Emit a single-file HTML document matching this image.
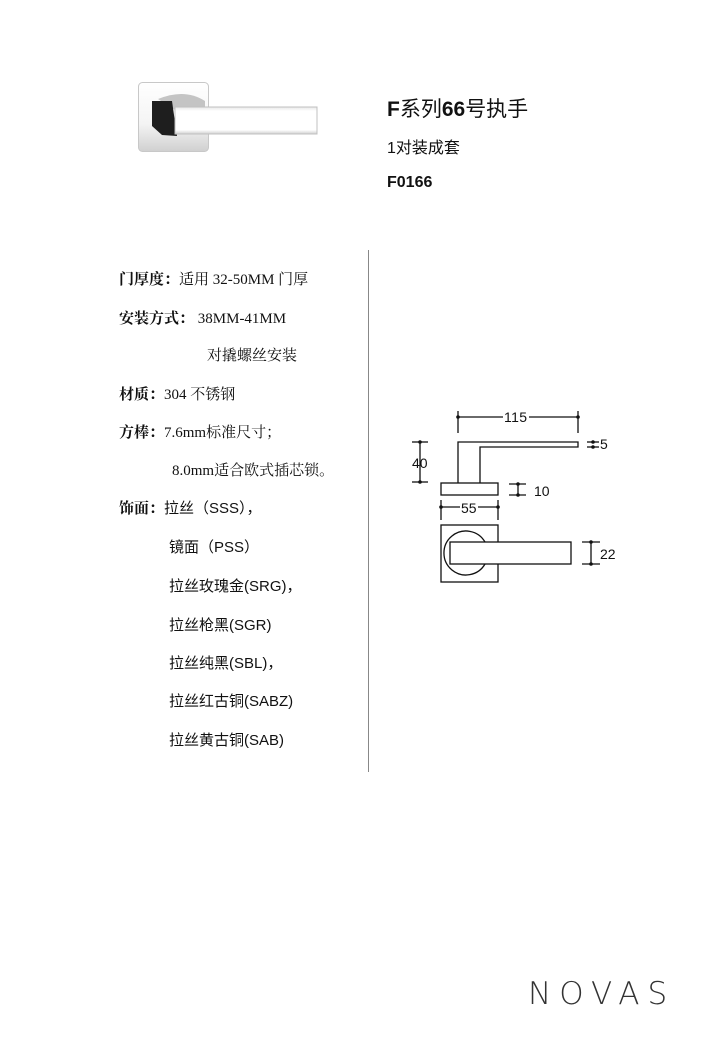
<!DOCTYPE html>
<html><head><meta charset="utf-8"><style>
body{margin:0;background:#fff;}
.p{position:relative;width:720px;height:1040px;overflow:hidden;font-family:"Liberation Serif","Noto Serif CJK SC","Noto Sans CJK SC",serif;color:#111;}
.t{position:absolute;font-size:15px;white-space:nowrap;line-height:20px;}
.b{font-weight:bold;}
.s{font-family:"Liberation Sans","Noto Sans CJK SC",sans-serif;}
</style></head><body><div class="p">
<svg style="position:absolute;left:0;top:0" width="720" height="1040">
<defs><linearGradient id="g" x1="0" y1="0" x2="0" y2="1"><stop offset="0" stop-color="#fff"/><stop offset="0.6" stop-color="#f4f4f4"/><stop offset="1" stop-color="#d0d0d0"/></linearGradient>
<linearGradient id="h" x1="0" y1="0" x2="0" y2="1"><stop offset="0" stop-color="#e8e8e8"/><stop offset="0.15" stop-color="#fff"/><stop offset="0.85" stop-color="#fff"/><stop offset="1" stop-color="#cfcfcf"/></linearGradient></defs>
<rect x="138.5" y="82.5" width="70" height="69" rx="4" fill="url(#g)" stroke="#c8c8c8"/>
<path d="M158 99 Q185 88 205 101 L205 110 L175 110 Z" fill="#c4c4c4"/>
<path d="M152 101 L172 101 L177 136 L162 135 L152 126 Z" fill="#1e1e1e"/>
<rect x="175" y="107" width="142" height="27" fill="url(#h)" stroke="#c0c0c0"/>
<line x1="368.5" y1="250" x2="368.5" y2="772" stroke="#888"/>
<g stroke="#111" stroke-width="1.3" fill="none">
<path d="M458 483 L458 442 L578 442 L578 447 L480 447 L480 483"/>
<rect x="441" y="483" width="57" height="12"/>
<line x1="458" y1="417" x2="578" y2="417"/><line x1="458" y1="411" x2="458" y2="433"/><line x1="578" y1="411" x2="578" y2="433"/>
<line x1="420" y1="442" x2="420" y2="482"/><line x1="412" y1="442" x2="428" y2="442"/><line x1="412" y1="482" x2="428" y2="482"/>
<line x1="587" y1="442" x2="599" y2="442"/><line x1="587" y1="447" x2="599" y2="447"/>
<line x1="518" y1="484" x2="518" y2="495"/><line x1="509" y1="484" x2="526" y2="484"/><line x1="509" y1="495" x2="526" y2="495"/>
<line x1="441" y1="507" x2="498" y2="507"/><line x1="441" y1="500" x2="441" y2="520"/><line x1="498" y1="500" x2="498" y2="520"/>
<rect x="441" y="525" width="57" height="57"/>
<path d="M485 542 A22 22 0 1 0 485 564"/>
<rect x="450" y="542" width="121" height="22" fill="#fff"/>
<line x1="591" y1="542" x2="591" y2="564"/><line x1="582" y1="542" x2="600" y2="542"/><line x1="582" y1="564" x2="600" y2="564"/>
</g>
<g fill="#111"><circle cx="458" cy="417" r="1.8"/><circle cx="578" cy="417" r="1.8"/><circle cx="420" cy="442" r="1.8"/><circle cx="420" cy="482" r="1.8"/><circle cx="593" cy="442" r="1.8"/><circle cx="593" cy="447" r="1.8"/><circle cx="518" cy="484" r="1.8"/><circle cx="518" cy="495" r="1.8"/><circle cx="441" cy="507" r="1.8"/><circle cx="498" cy="507" r="1.8"/><circle cx="591" cy="542" r="1.8"/><circle cx="591" cy="564" r="1.8"/></g>
<g font-family="Liberation Sans, sans-serif" font-size="14" fill="#111">
<rect x="503" y="409" width="26" height="16" fill="#fff"/><text x="504" y="422" textLength="23">115</text>
<rect x="460" y="499" width="18" height="16" fill="#fff"/><text x="461" y="513">55</text>
<text x="412" y="468">40</text><text x="600" y="449">5</text><text x="534" y="496">10</text><text x="600" y="559">22</text>
</g>
</svg>
<div class="t s" style="left:387px;top:97px;font-size:21px;line-height:26px"><b>F</b>系列<b>66</b>号执手</div>
<div class="t s" style="left:387px;top:139px;font-size:16px">1对装成套</div>
<div class="t s b" style="left:387px;top:173px;font-size:16px">F0166</div>
<div class="t" style="left:119px;top:270px"><b>门厚度：</b>适用 32-50MM 门厚</div>
<div class="t" style="left:119px;top:309px"><b>安装方式：</b> 38MM-41MM</div>
<div class="t" style="left:207px;top:346px">对撬螺丝安装</div>
<div class="t" style="left:119px;top:385px"><b>材质：</b>304 不锈钢</div>
<div class="t" style="left:119px;top:423px"><b>方棒：</b>7.6mm标准尺寸；</div>
<div class="t" style="left:172px;top:461px">8.0mm适合欧式插芯锁。</div>
<div class="t" style="left:119px;top:499px"><b>饰面：</b><span class="s">拉丝（SSS），</span></div>
<div class="t s" style="left:169px;top:538px">镜面（PSS）</div>
<div class="t s" style="left:169px;top:577px">拉丝玫瑰金(SRG)，</div>
<div class="t s" style="left:169px;top:616px">拉丝枪黑(SGR)</div>
<div class="t s" style="left:169px;top:654px">拉丝纯黑(SBL)，</div>
<div class="t s" style="left:169px;top:692px">拉丝红古铜(SABZ)</div>
<div class="t s" style="left:169px;top:731px">拉丝黄古铜(SAB)</div>
<div class="t" style="left:528px;top:976px;font-family:'DejaVu Sans',sans-serif;font-weight:200;font-size:31px;line-height:36px;letter-spacing:8px;color:#333">NOVAS</div>
</div></body></html>
